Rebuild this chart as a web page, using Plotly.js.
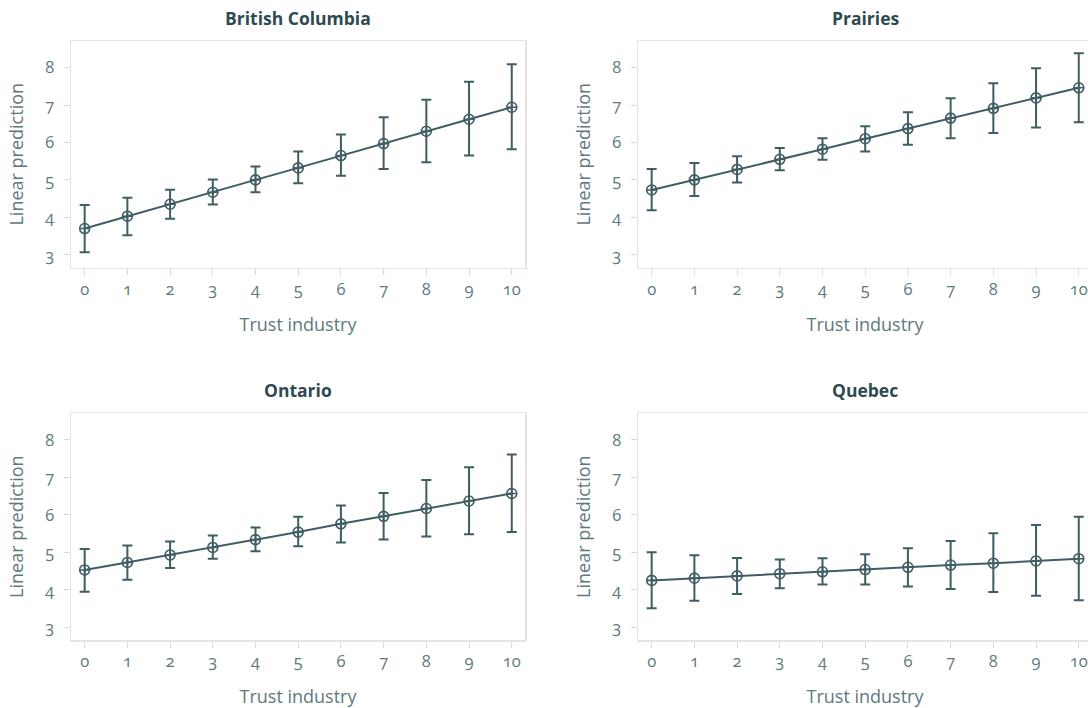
<!DOCTYPE html>
<html>
<head>
<meta charset="utf-8">
<script src="https://cdn.plot.ly/plotly-3.0.1.min.js"></script>
<style>
  html, body { margin: 0; padding: 0; background: #ffffff; overflow: hidden; width: 1088px; height: 708px; }
  #chart { width: 1100px; height: 708px; }
  .main-svg text { font-feature-settings: "onum" 1; }
</style>
</head>
<body>
<div id="chart"></div>
<script>
// ---- data ----
const trust = [0, 1, 2, 3, 4, 5, 6, 7, 8, 9, 10];
const regions = ["British Columbia", "Prairies", "Ontario", "Quebec"];

const bcMean  = [3.70, 4.03, 4.35, 4.67, 5.00, 5.32, 5.65, 5.97, 6.30, 6.62, 6.94];
const bcLower = [3.07, 3.52, 3.96, 4.34, 4.67, 4.91, 5.11, 5.29, 5.47, 5.65, 5.82];
const bcUpper = [4.33, 4.52, 4.74, 5.01, 5.36, 5.76, 6.21, 6.67, 7.14, 7.62, 8.09];

const prMean  = [4.73, 5.00, 5.28, 5.55, 5.82, 6.10, 6.37, 6.65, 6.91, 7.19, 7.46];
const prLower = [4.19, 4.57, 4.93, 5.26, 5.54, 5.76, 5.94, 6.11, 6.25, 6.40, 6.54];
const prUpper = [5.29, 5.45, 5.63, 5.85, 6.11, 6.43, 6.81, 7.18, 7.58, 7.98, 8.38];

const onMean  = [4.53, 4.73, 4.93, 5.13, 5.34, 5.54, 5.76, 5.96, 6.17, 6.37, 6.57];
const onLower = [3.95, 4.27, 4.58, 4.83, 5.03, 5.16, 5.26, 5.34, 5.42, 5.48, 5.54];
const onUpper = [5.09, 5.18, 5.29, 5.45, 5.66, 5.95, 6.25, 6.58, 6.93, 7.27, 7.61];

const qcMean  = [4.25, 4.31, 4.37, 4.43, 4.48, 4.54, 4.60, 4.66, 4.71, 4.77, 4.83];
const qcLower = [3.51, 3.71, 3.89, 4.04, 4.14, 4.14, 4.09, 4.02, 3.94, 3.84, 3.72];
const qcUpper = [5.00, 4.92, 4.85, 4.81, 4.84, 4.95, 5.11, 5.30, 5.51, 5.73, 5.95];

const yTicks = [3, 4, 5, 6, 7, 8];
const xTitle = "Trust industry";
const yTitle = "Linear prediction";

// ---- styling ----
const LINE = "#3f5d63";
const TICKTXT = "#60797e";
const TITLETXT = "#2d4a50";
const FRAME = "#e3e5e5";
const FONT = "Open Sans, Noto Sans, sans-serif";
const W = 1100, H = 708;

const series = [
  {mean: bcMean, lo: bcLower, hi: bcUpper},
  {mean: prMean, lo: prLower, hi: prUpper},
  {mean: onMean, lo: onLower, hi: onUpper},
  {mean: qcMean, lo: qcLower, hi: qcUpper}
];

// panel frames in px
const xDom = [[71, 525], [638, 1092]];
const yDom = [[41, 267.5], [413.3, 640]];

const traces = [];
const layout = {
  width: W, height: H,
  margin: {l: 0, r: 0, t: 0, b: 0},
  paper_bgcolor: "#ffffff",
  plot_bgcolor: "#ffffff",
  showlegend: false,
  font: {family: FONT, color: TICKTXT},
  annotations: []
};

series.forEach((s, i) => {
  const col = i % 2, row = Math.floor(i / 2);
  const n = i + 1;
  const xa = n === 1 ? "xaxis" : "xaxis" + n;
  const ya = n === 1 ? "yaxis" : "yaxis" + n;
  traces.push({
    type: "scatter",
    mode: "lines+markers",
    x: trust,
    y: s.mean,
    xaxis: "x" + (n === 1 ? "" : n),
    yaxis: "y" + (n === 1 ? "" : n),
    line: {color: LINE, width: 2},
    marker: {symbol: "circle-cross-open", size: 10, color: LINE, line: {color: LINE, width: 1.6}},
    error_y: {
      type: "data",
      symmetric: false,
      array: s.hi.map((v, k) => v - s.mean[k]),
      arrayminus: s.mean.map((v, k) => v - s.lo[k]),
      color: LINE, thickness: 2, width: 5
    },
    hoverinfo: "x+y"
  });
  layout[xa] = {
    domain: [xDom[col][0] / W, xDom[col][1] / W],
    anchor: "y" + (n === 1 ? "" : n),
    range: [-0.32, 10.31],
    tickvals: trust,
    ticktext: trust.map(String),
    ticks: "outside", ticklen: 6, tickwidth: 1, tickcolor: "#d5d9d9",
    ticklabelstandoff: 0,
    showline: true, linecolor: FRAME, linewidth: 1.5, mirror: true,
    showgrid: false, zeroline: false,
    tickfont: {family: FONT, size: 16.5, color: TICKTXT},
    title: {text: xTitle, font: {family: FONT, size: 18, color: TICKTXT}, standoff: 19},
    automargin: false,
    fixedrange: true
  };
  layout[ya] = {
    domain: [1 - yDom[row][1] / H, 1 - yDom[row][0] / H],
    anchor: "x" + (n === 1 ? "" : n),
    range: [2.66, 8.71],
    tickvals: yTicks,
    ticks: "outside", ticklen: 6, tickwidth: 1, tickcolor: "#d5d9d9",
    ticklabelstandoff: 6,
    showline: true, linecolor: FRAME, linewidth: 1.5, mirror: true,
    showgrid: false, zeroline: false,
    tickfont: {family: FONT, size: 16.5, color: TICKTXT},
    title: {text: yTitle, font: {family: FONT, size: 18, color: TICKTXT}, standoff: 16},
    automargin: false,
    fixedrange: true
  };
  layout.annotations.push({
    text: "<b>" + regions[i] + "</b>",
    xref: "paper", yref: "paper",
    x: (xDom[col][0] + xDom[col][1]) / 2 / W,
    y: 1 - (row === 0 ? 18 : 390) / H,
    xanchor: "center", yanchor: "middle",
    showarrow: false,
    font: {family: FONT, size: 17.5, color: TITLETXT}
  });
});

Plotly.newPlot("chart", traces, layout, {displayModeBar: false, staticPlot: true});
</script>
</body>
</html>
